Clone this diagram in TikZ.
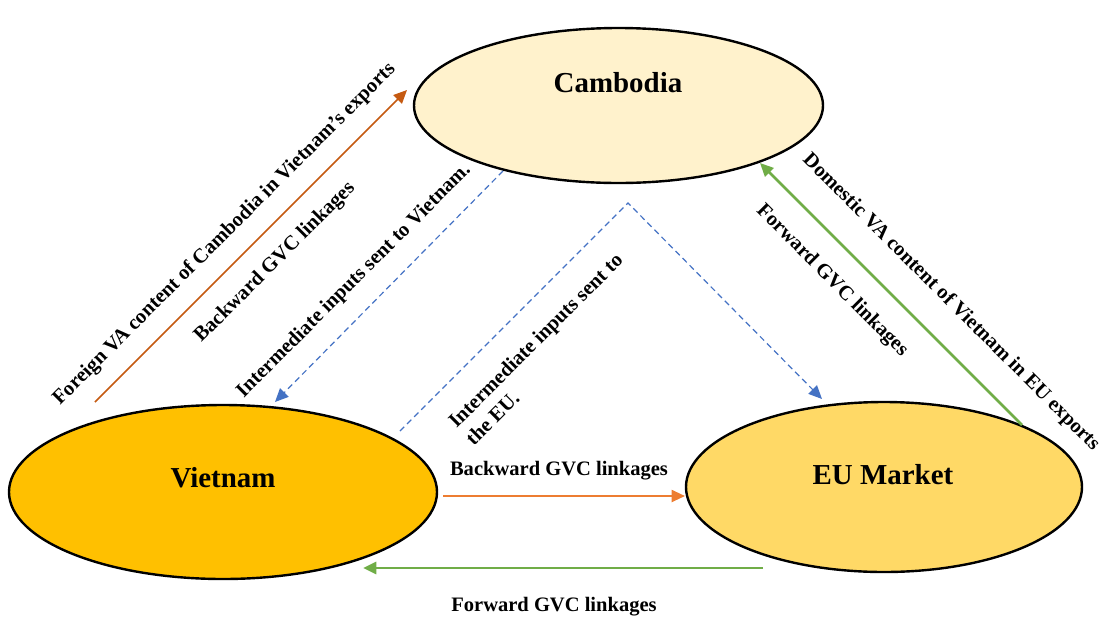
\documentclass[tikz,border=0pt]{standalone}
\usepackage{fontspec}
\setmainfont{Liberation Serif}
\usetikzlibrary{shapes.geometric,arrows.meta}

\definecolor{cambfill}{HTML}{FFF2CC}
\definecolor{vietfill}{HTML}{FFC000}
\definecolor{eufill}{HTML}{FFD966}
\definecolor{darkorange}{HTML}{C55A11}
\definecolor{lightorange}{HTML}{ED7D31}
\definecolor{flowgreen}{HTML}{70AD47}
\definecolor{flowblue}{HTML}{4472C4}

\tikzset{
  country/.style={ellipse, draw=black, line width=1.8pt, inner sep=0pt, outer sep=0pt},
  title/.style={font=\fontsize{21.7}{24}\selectfont\bfseries, inner sep=0pt},
  flowlabel/.style={font=\fontsize{15.4}{18.5}\selectfont\bfseries, inner sep=0pt},
  tip/.style={-{Triangle[length=10pt,width=9pt]}},
  inputflow/.style={tip, flowblue, line width=0.9pt, dash pattern=on 4.5pt off 3pt},
}

\begin{document}
\begin{tikzpicture}[x=0.75pt, y=-0.75pt]
\useasboundingbox (0,0) rectangle (1108,619);

% countries
\node[country, fill=cambfill, minimum width=306.75pt, minimum height=116.25pt] (camb) at (618.5,105.5) {};
\node[country, fill=vietfill, minimum width=321pt, minimum height=130.5pt] (viet) at (223,492) {};
\node[country, fill=eufill, minimum width=297pt, minimum height=127.5pt] (eu) at (884,487) {};

\node[title] (camb-t) at (618,83) {Cambodia};
\node[title] (viet-t) at (223,478) {Vietnam};
\node[title] (eu-t) at (883,475) {EU Market};

% end points of the flows
\coordinate (fva-s) at (95,402);
\coordinate (fva-e) at (407,90);
\coordinate (iv-s) at (503,171);
\coordinate (iv-e) at (275,402);
\coordinate (ie-s) at (400,431);
\coordinate (ie-m) at (628,203);
\coordinate (ie-e) at (822,399);
\coordinate (dva-s) at (1022,425);
\coordinate (dva-e) at (760,163);
\coordinate (bw-s) at (443,496);
\coordinate (bw-e) at (685,496);
\coordinate (fw-s) at (763,568);
\coordinate (fw-e) at (363,568);

% flows
\draw[tip, darkorange, line width=1.1pt] (fva-s) -- (fva-e);
\draw[inputflow] (iv-s) -- (iv-e);
\draw[inputflow] (ie-s) -- (ie-m) -- (ie-e);
\draw[tip, flowgreen, line width=1.9pt] (dva-s) -- (dva-e);
\draw[tip, lightorange, line width=1.5pt] (bw-s) -- (bw-e);
\draw[tip, flowgreen, line width=2.2pt] (fw-s) -- (fw-e);

% labels
\node[flowlabel, rotate=45] (l-fva) at (224.5,234.5) {Foreign VA content of Cambodia in Vietnam’s exports};
\node[flowlabel, rotate=45] (l-bw1) at (275,262.5) {Backward GVC linkages};
\node[flowlabel, rotate=45] (l-iv) at (354,281) {Intermediate inputs sent to Vietnam.};
\node[flowlabel, rotate=45, align=left] (l-ie) at (544,349) {Intermediate inputs sent to\\the EU.};
\node[flowlabel, rotate=-45] (l-fw1) at (832,281) {Forward GVC linkages};
\node[flowlabel, rotate=-45] (l-dva) at (951,302.5) {Domestic VA content of Vietnam in EU exports};
\node[flowlabel] (l-bw2) at (559,471) {Backward GVC linkages};
\node[flowlabel] (l-fw2) at (554,607) {Forward GVC linkages};
\end{tikzpicture}
\end{document}
